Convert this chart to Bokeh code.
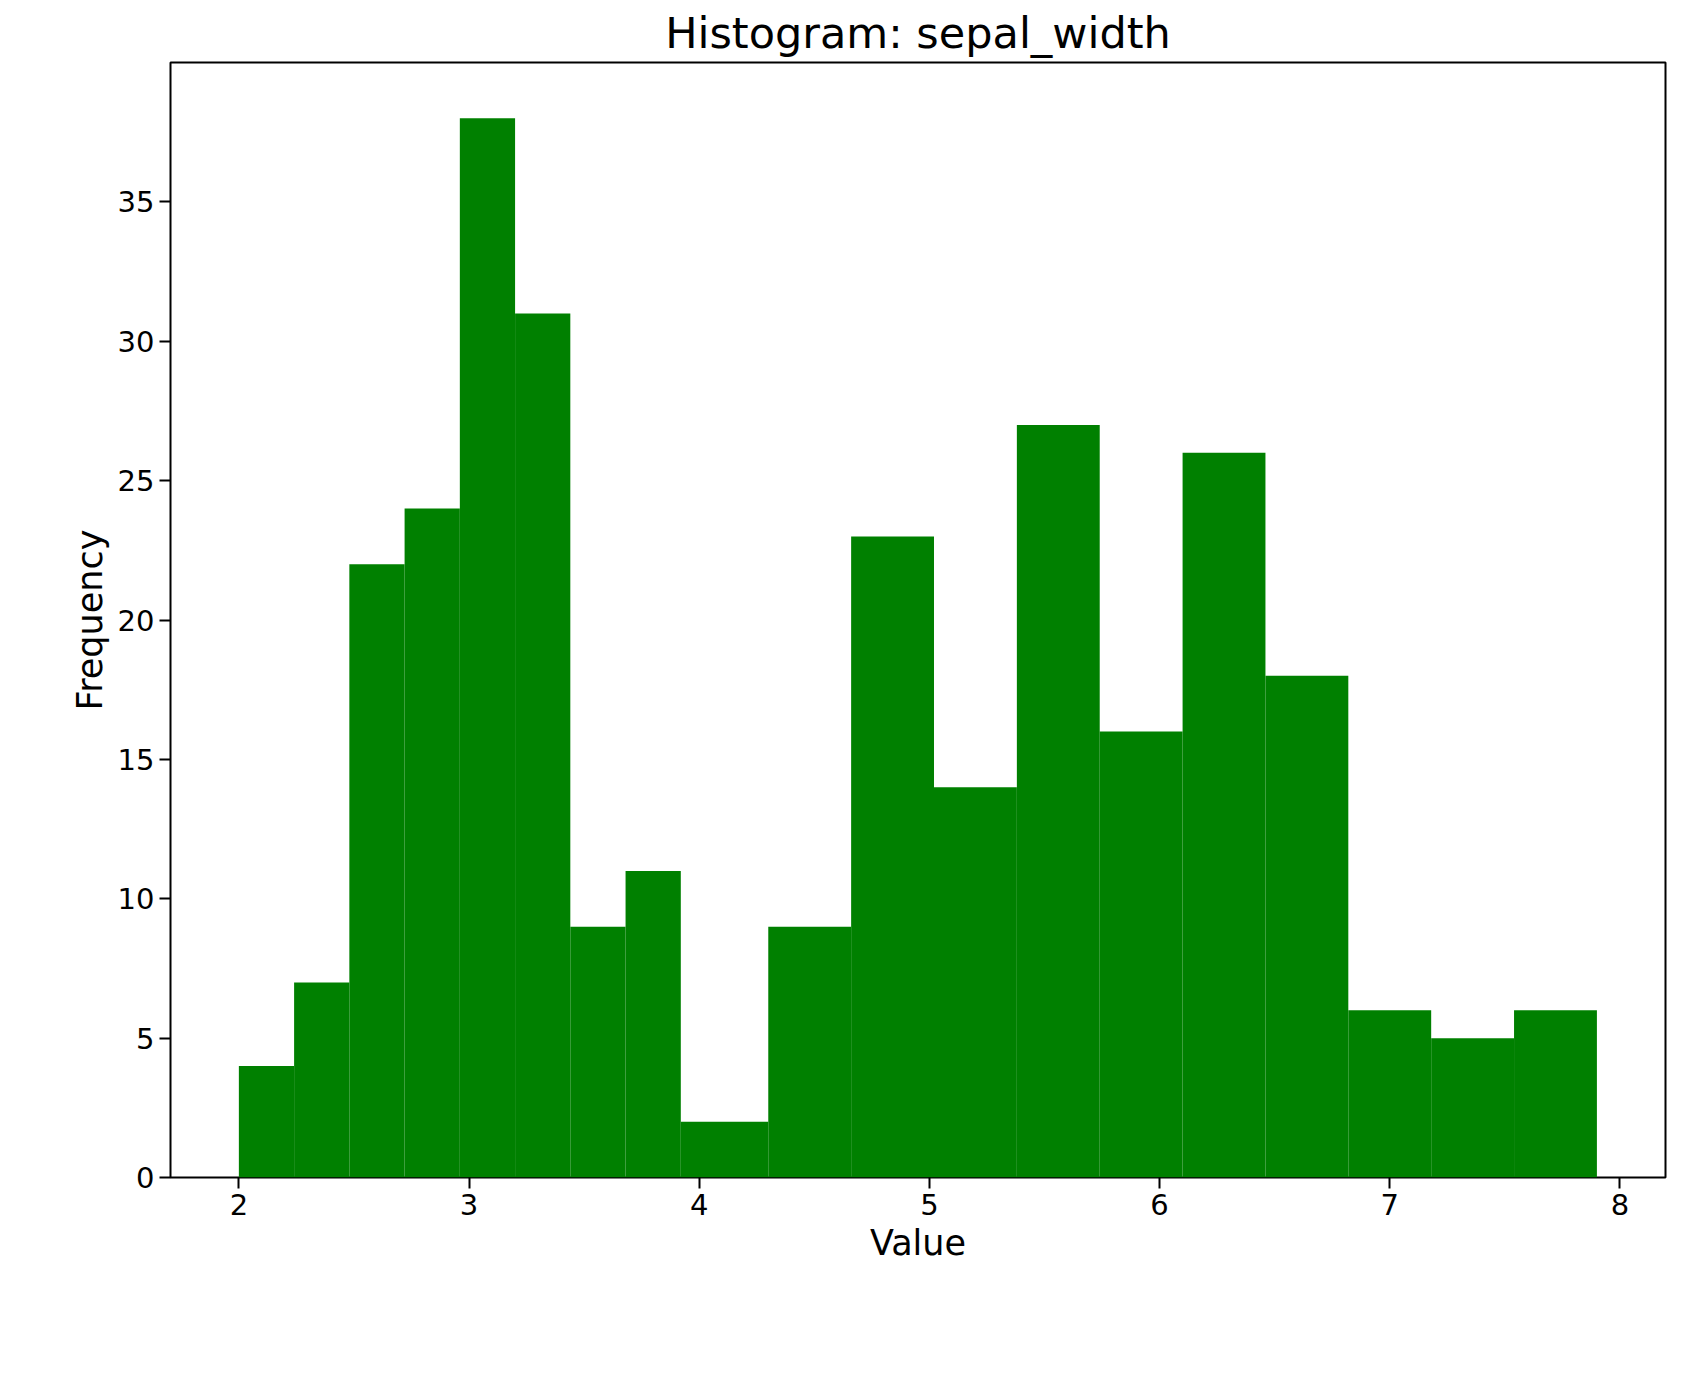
from bokeh.plotting import figure
from bokeh.models import Range1d, FixedTicker
from bokeh.embed import file_html
from bokeh.resources import INLINE

# bin edges and counts
edges = [2.0, 2.24, 2.48, 2.72, 2.96, 3.2, 3.44, 3.68, 3.92, 4.3,
         4.66, 5.02, 5.38, 5.74, 6.1, 6.46, 6.82, 7.18, 7.54, 7.9]
counts = [4, 7, 22, 24, 38, 31, 9, 11, 2, 9, 23, 14, 27, 16, 26, 18, 6, 5, 6]
x_ticks = [2, 3, 4, 5, 6, 7, 8]
y_ticks = [0, 5, 10, 15, 20, 25, 30, 35]

p = figure(frame_width=1495, frame_height=1115, output_backend="svg",
           toolbar_location=None, title="Histogram: sepal_width",
           x_range=Range1d(1.703, 8.198), y_range=Range1d(0, 40.0),
           min_border_left=170, min_border_top=20, min_border_right=10,
           min_border_bottom=20)
p.quad(left=edges[:-1], right=edges[1:], bottom=0, top=counts,
       fill_color="green", line_color=None)

p.title.align = "center"
p.title.text_font = "DejaVu Sans"
p.title.text_font_size = "43px"
p.title.text_font_style = "normal"
p.title.text_color = "black"

p.xaxis.axis_label = "Value"
p.yaxis.axis_label = "Frequency"
p.xaxis.ticker = FixedTicker(ticks=x_ticks)
p.yaxis.ticker = FixedTicker(ticks=y_ticks)
for ax in (p.xaxis, p.yaxis):
    ax.axis_label_text_font = "DejaVu Sans"
    ax.axis_label_text_font_size = "35px"
    ax.axis_label_text_font_style = "normal"
    ax.axis_label_text_color = "black"
    ax.major_label_text_font = "DejaVu Sans"
    ax.major_label_text_font_size = "29px"
    ax.major_label_text_color = "black"
    ax.minor_tick_line_color = None
    ax.major_tick_out = 11
    ax.major_tick_in = 0
    ax.axis_line_color = None
    ax.major_tick_line_width = 2
    ax.major_tick_line_color = "black"
p.grid.grid_line_color = None
p.outline_line_color = "black"
p.outline_line_width = 2

open("out.html", "w").write(file_html(p, INLINE))
